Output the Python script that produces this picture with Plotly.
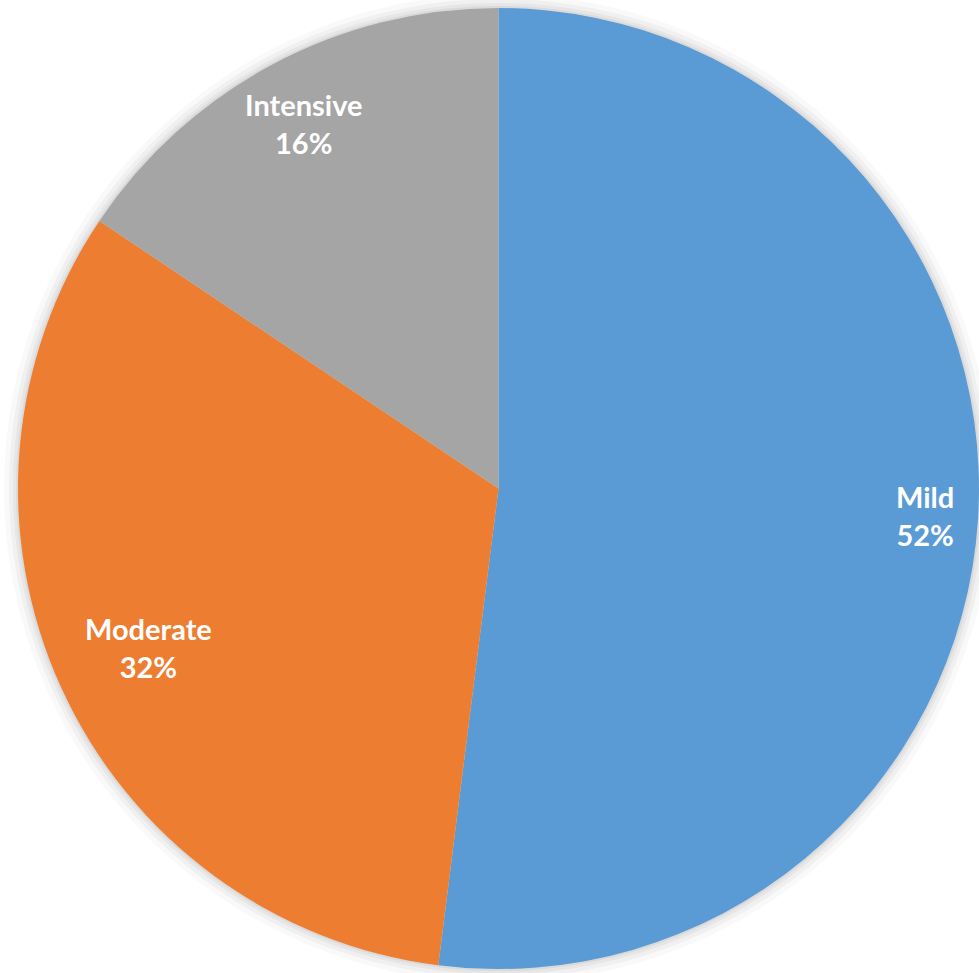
import math
import plotly.graph_objects as go

categories = ["Mild", "Moderate", "Intensive"]
values = [52.0, 32.4, 15.6]
colors = ["#5B9BD5", "#ED7D31", "#A5A5A5"]
label_radius = [0.89, 0.80, 0.86]

W, H = 979, 973
dom_x = [18 / W, 979 / W]
dom_y = [4 / H, 965 / H]

fig = go.Figure()
fig.add_trace(go.Pie(
    labels=categories,
    values=values,
    marker=dict(colors=colors, line=dict(width=0)),
    sort=False,
    direction="clockwise",
    rotation=0,
    textinfo="none",
    hoverinfo="label+percent",
    showlegend=False,
    domain=dict(x=dom_x, y=dom_y),
))

cx = (dom_x[0] + dom_x[1]) / 2 * W
cy = (dom_y[0] + dom_y[1]) / 2 * H
r = min((dom_x[1] - dom_x[0]) * W, (dom_y[1] - dom_y[0]) * H) / 2

# soft shadow glow around the pie
for grow, op in [(14, 0.05), (9, 0.07), (5, 0.09), (2, 0.12)]:
    rr = r + grow
    fig.add_shape(
        type="circle", xref="paper", yref="paper", layer="below",
        x0=(cx - rr) / W, x1=(cx + rr) / W, y0=(cy - rr) / H, y1=(cy + rr) / H,
        fillcolor="#808080", opacity=op, line=dict(width=0),
    )

# label positions computed from slice mid-angles
total = sum(values)
cum = 0
for cat, v, rf in zip(categories, values, label_radius):
    mid = (cum + v / 2) / total * 2 * math.pi
    cum += v
    px = cx + rf * r * math.sin(mid)
    py = cy + rf * r * math.cos(mid)
    fig.add_annotation(
        x=px / W, y=py / H, xref="paper", yref="paper",
        xanchor="center", yanchor="middle",
        text=f"<b>{cat}<br>{round(v / total * 100)}%</b>",
        showarrow=False, align="center",
        font=dict(family="Lato", size=29, color="white"),
    )

fig.update_layout(
    width=W, height=H,
    margin=dict(l=0, r=0, t=0, b=0),
    paper_bgcolor="white",
    plot_bgcolor="rgba(0,0,0,0)",
)
fig.write_html("out.html", config={"displayModeBar": False},
               post_script="document.body.style.margin='0';")
